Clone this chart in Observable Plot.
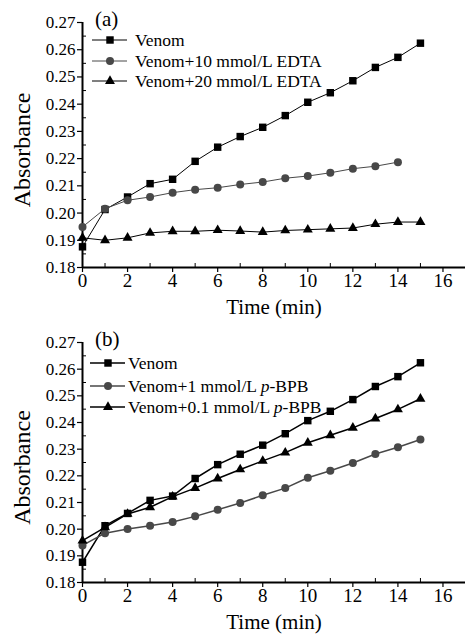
<!DOCTYPE html>
<html><head><meta charset="utf-8">
<script src="https://cdn.jsdelivr.net/npm/d3@7"></script>
<script src="https://cdn.jsdelivr.net/npm/@observablehq/plot@0.6"></script>
<style>
body{margin:0;background:#fff;}
#chart{width:465px;}
#chart svg{display:block;}
#chart svg, #chart svg text{font-family:"Liberation Serif","Times New Roman",Times,serif !important;}
</style>
</head><body><div id="chart"></div>
<script>
const time = [0,1,2,3,4,5,6,7,8,9,10,11,12,13,14,15];
const venom  = [0.1876,0.2013,0.2059,0.2108,0.2124,0.2190,0.2242,0.2281,0.2315,0.2358,0.2407,0.2442,0.2486,0.2535,0.2572,0.2624];
const edta10 = [0.1949,0.2016,0.2047,0.2059,0.2075,0.2086,0.2093,0.2105,0.2114,0.2128,0.2136,0.2148,0.2163,0.2172,0.2187];
const edta20 = [0.1909,0.1900,0.1909,0.1927,0.1933,0.1933,0.1937,0.1934,0.1930,0.1936,0.1939,0.1942,0.1945,0.1959,0.1967,0.1967];
const bpb1   = [0.1939,0.1985,0.2001,0.2013,0.2027,0.2048,0.2073,0.2098,0.2127,0.2154,0.2193,0.2219,0.2248,0.2282,0.2307,0.2336];
const bpb01  = [0.1957,0.2007,0.2057,0.2082,0.2122,0.2154,0.2190,0.2224,0.2256,0.2287,0.2324,0.2352,0.2380,0.2415,0.2449,0.2489];
const yTicks = [0.18,0.19,0.20,0.21,0.22,0.23,0.24,0.25,0.26,0.27];
const yMinor = [0.185,0.195,0.205,0.215,0.225,0.235,0.245,0.255,0.265];
const xTicks = [0,2,4,6,8,10,12,14,16];
const xMinor = [1,3,5,7,9,11,13,15,17];

const panelA = {
  label: "(a)", height: 320, marginBottom: 53, lineWidth: 1,
  legend: {x0: 92, x1: 127, xm: 110, xt: 135, rows: [40, 61, 81]},
  series: [
    {name: ["Venom"], values: venom, symbol: "square", color: "#000", r: 4.2},
    {name: ["Venom+10 mmol/L EDTA"], values: edta10, symbol: "circle", color: "#484848", r: 4},
    {name: ["Venom+20 mmol/L EDTA"], values: edta20, symbol: "triangle", color: "#000", r: 3.7}
  ]
};
const panelB = {
  label: "(b)", height: 314, marginBottom: 52, lineWidth: 1.5,
  legend: {x0: 90, x1: 125, xm: 108, xt: 128, rows: [43, 66, 87]},
  series: [
    {name: ["Venom"], values: venom, symbol: "square", color: "#000", r: 4.2},
    {name: ["Venom+1 mmol/L ", "p", "-BPB"], values: bpb1, symbol: "circle", color: "#484848", r: 4},
    {name: ["Venom+0.1 mmol/L ", "p", "-BPB"], values: bpb01, symbol: "triangle", color: "#000", r: 3.7}
  ]
};

function makePanel(p) {
  const marks = [];
  for (const s of p.series) {
    const rows = s.values.map((v, i) => ({t: time[i], v}));
    marks.push(Plot.line(rows, {x: "t", y: "v", stroke: s.color, strokeWidth: p.lineWidth}));
    marks.push(Plot.dot(rows, {x: "t", y: "v", symbol: () => s.symbol, fill: s.color, stroke: "none", r: s.r}));
  }
  const svg = Plot.plot({
    width: 465, height: p.height,
    marginLeft: 82, marginRight: 0, marginTop: 22, marginBottom: p.marginBottom,
    style: {background: "#fff", color: "#000"},
    x: {domain: [0, 17]},
    y: {domain: [0.18, 0.27]},
    symbol: {type: "identity"},
    marks: [
      Plot.axisY({ticks: yTicks, tickFormat: d3.format(".2f"), tickSize: 5, tickPadding: 2, fontSize: 17, label: null, strokeWidth: 1.2}),
      Plot.axisY({ticks: yMinor, text: null, tickSize: 4, dx: 4, label: null}),
      Plot.axisX({ticks: xTicks, tickFormat: d => String(d), tickSize: 5, tickPadding: 1, fontSize: 19, label: null, strokeWidth: 1.2}),
      Plot.axisX({ticks: xMinor, text: null, tickSize: 4, dy: -4, label: null}),
      Plot.ruleX([0], {stroke: "#000", strokeWidth: 2}),
      Plot.ruleY([0.18], {stroke: "#000", strokeWidth: 2}),
      ...marks,
      Plot.text(["Absorbance"], {frameAnchor: "left", text: d => d, rotate: -90, textAnchor: "middle", lineAnchor: "middle", dx: -60, dy: 5, fontSize: 24, fill: "#000"}),
      Plot.text(["Time (min)"], {frameAnchor: "bottom", text: d => d, textAnchor: "middle", lineAnchor: "middle", dy: 40, fontSize: 21, fill: "#000"})
    ]
  });
  const g = d3.select(svg).append("g").attr("text-anchor", "start");
  g.append("text").attr("x", 95).attr("y", 19).attr("dy", "0.35em").attr("font-size", 21).text(p.label);
  const L = p.legend;
  p.series.forEach((s, i) => {
    const y = L.rows[i];
    g.append("line").attr("x1", L.x0).attr("x2", L.x1).attr("y1", y).attr("y2", y)
      .attr("stroke", s.color).attr("stroke-width", p.lineWidth);
    const sym = s.symbol === "square" ? d3.symbolSquare : s.symbol === "circle" ? d3.symbolCircle : d3.symbolTriangle;
    g.append("path").attr("transform", `translate(${L.xm},${y})`)
      .attr("d", d3.symbol(sym, Math.PI * s.r * s.r)()).attr("fill", s.color);
    const t = g.append("text").attr("x", L.xt).attr("y", y).attr("dy", "0.35em").attr("font-size", 17.5);
    s.name.forEach(part => {
      const ts = t.append("tspan").text(part);
      if (part === "p") ts.attr("font-style", "italic");
    });
  });
  return svg;
}

const chart = document.getElementById("chart");
chart.appendChild(makePanel(panelA));
chart.appendChild(makePanel(panelB));
</script>
</body></html>
